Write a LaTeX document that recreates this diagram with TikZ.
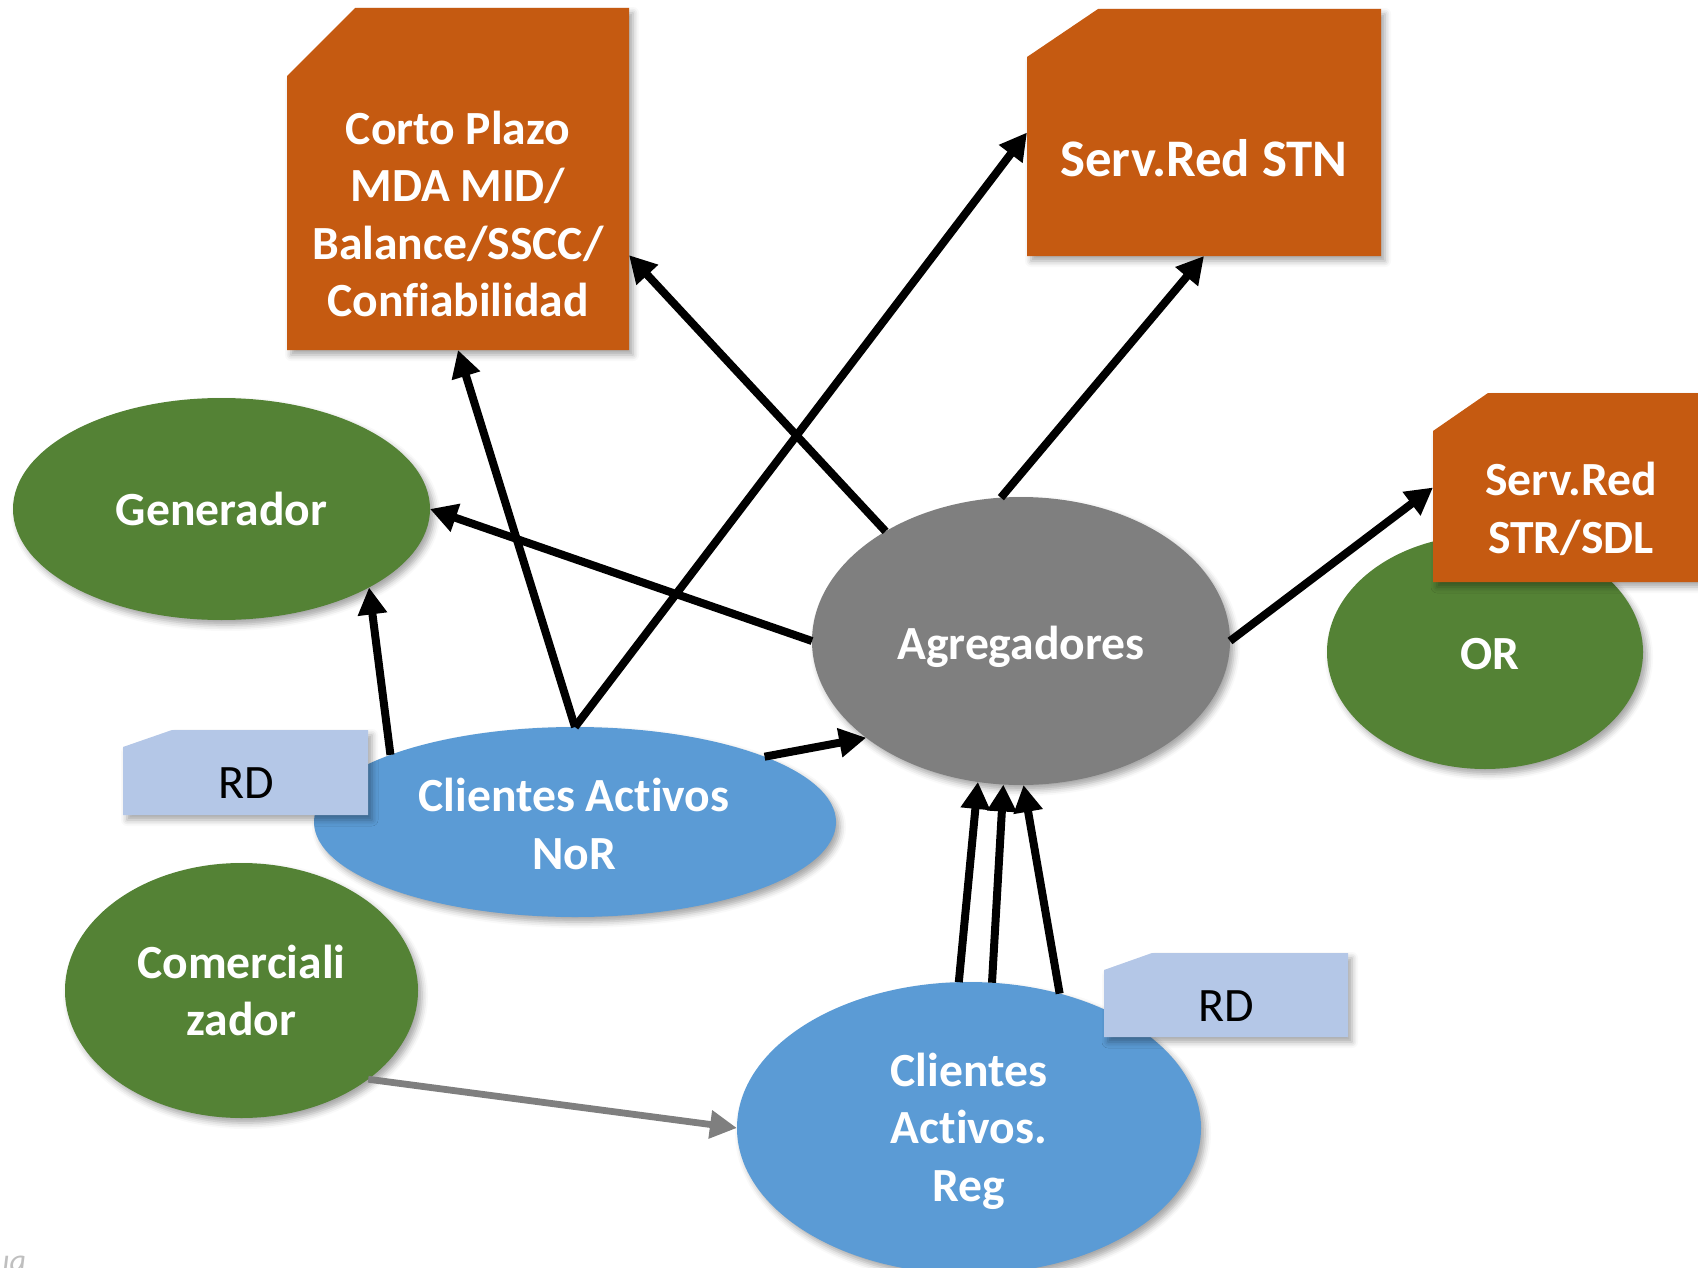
\documentclass[tikz,border=0pt]{standalone}
\usepackage{fontspec}
\setmainfont{Carlito}[Ligatures=NoCommon]
\usetikzlibrary{arrows.meta,shadows.blur,calc,shapes.geometric}
\definecolor{orng}{HTML}{C55A11}
\definecolor{grn}{HTML}{548235}
\definecolor{blu}{HTML}{5B9BD5}
\definecolor{gry}{HTML}{7F7F7F}
\definecolor{rdblue}{HTML}{B4C7E7}
\definecolor{foottxt}{HTML}{BFBFBF}
\tikzset{
  shad/.style={blur shadow={shadow xshift=2pt, shadow yshift=-2.5pt, shadow blur radius=3pt, shadow opacity=35}},
  ell/.style={ellipse, inner sep=0pt, outer sep=0pt, shad, text=white, align=center,
              font=\fontsize{23.8}{28.65}\selectfont\bfseries},
  frame/.style={rectangle, inner sep=0pt, outer sep=0pt, draw=none},
  lbl/.style={text=white, font=\fontsize{23.8}{28.65}\selectfont\bfseries, align=center, inner sep=0pt},
  rdlbl/.style={text=black, font=\fontsize{24}{28.8}\selectfont, inner sep=0pt},
  arr/.style={line width=4pt, -{Triangle[width=14pt,length=13.5pt]}, black},
  garr/.style={line width=3.4pt, -{Triangle[width=13.5pt,length=13.5pt]}, gry},
}
\begin{document}
\begin{tikzpicture}[x=0.5pt,y=-0.5pt]
\useasboundingbox (0,0) rectangle (1698,1268);
\clip (0,0) rectangle (1698,1268);

% Generador
\node[ell, fill=grn, minimum width=208.5pt, minimum height=111pt] (gen) at (221.5,509) {Generador};

% Corto Plazo box
\node[frame, minimum width=171pt, minimum height=171pt] (cp) at (458,179) {};
\fill[orng, shad] ($(cp.north west)+(0,68)$) -- ($(cp.north west)+(68,0)$) -- (cp.north east) -- (cp.south east) -- (cp.south west) -- cycle;
\node[lbl] (cptxt) at (458,214) {Corto Plazo\\MDA MID/\\Balance/SSCC/\\Confiabilidad};

% Serv.Red STN box
\node[frame, minimum width=177pt, minimum height=123.5pt] (stn) at (1204,132.5) {};
\fill[orng, shad] ($(stn.north west)+(0,48)$) -- ($(stn.north west)+(71,0)$) -- (stn.north east) -- (stn.south east) -- (stn.south west) -- cycle;
\node[lbl, font=\fontsize{26.4}{32}\selectfont\bfseries] (stntxt) at (1204,158) {Serv.Red STN};

% OR
\node[ell, fill=grn, minimum width=158pt, minimum height=117pt] (or) at (1485,652) {};
\node[lbl] (ortxt) at (1490,654) {OR};

% Serv.Red STR/SDL box
\node[frame, minimum width=137pt, minimum height=94.5pt] (sdl) at (1570,487.5) {};
\fill[orng, shad] ($(sdl.north west)+(0,38)$) -- ($(sdl.north west)+(55,0)$) -- (sdl.north east) -- (sdl.south east) -- (sdl.south west) -- cycle;
\node[lbl, font=\fontsize{23.8}{29}\selectfont\bfseries] (sdltxt) at (1571,509) {Serv.Red\\STR/SDL};

% Agregadores
\node[ell, fill=gry, minimum width=209pt, minimum height=144pt] (agg) at (1021,641) {};
\node[lbl] (aggtxt) at (1021,647) {Agregadores};

% Comercializador
\node[ell, fill=grn, minimum width=176.5pt, minimum height=127.5pt] (com) at (241.5,990.5) {Comerciali\\zador};

% Clientes Activos NoR
\node[ell, fill=blu, minimum width=261pt, minimum height=95pt] (nor) at (575,822) {};
\node[lbl] (nortxt) at (574,824) {Clientes Activos\\NoR};

% RD left
\node[frame, minimum width=122.5pt, minimum height=42.5pt] (rdl) at (245.5,772.5) {};
\fill[rdblue, shad] ($(rdl.north west)+(0,17)$) -- ($(rdl.north west)+(49,0)$) -- (rdl.north east) -- (rdl.south east) -- (rdl.south west) -- cycle;
\node[rdlbl] (rdltxt) at (246,783.5) {RD};

% Clientes Activos. Reg
\node[ell, fill=blu, minimum width=232pt, minimum height=146pt] (reg) at (969,1128) {};
\node[lbl, font=\fontsize{23.8}{28.75}\selectfont\bfseries] (regtxt) at (969,1131) {Clientes\\Activos.\\Reg};

% RD right
\node[frame, minimum width=122pt, minimum height=42pt] (rdr) at (1226,995) {};
\fill[rdblue, shad] ($(rdr.north west)+(0,17)$) -- ($(rdr.north west)+(48,0)$) -- (rdr.north east) -- (rdr.south east) -- (rdr.south west) -- cycle;
\node[rdlbl] (rdrtxt) at (1226,1006) {RD};

% footer fragment (cut off by the lower edge, as in the reference)
\node[anchor=base west, text=foottxt, font=\fontsize{16}{19}\selectfont\itshape, inner sep=0pt] (foot) at (2,1271) {ıa};

% Connectors
\draw[arr] (nor.160.3) -- (gen.-28);
\draw[arr] (agg.west) -- (gen.east);
\draw[arr] (agg.141.65) -- (cp.-24.4);
\draw[arr] (nor.north) -- (cp.south);
\draw[arr] (nor.north) -- (stn.west);
\draw[arr] (agg.98) -- (stn.south);
\draw[arr] (agg.east) -- (sdl.west);
\draw[arr] (nor.19.9) -- (agg.212.8);
\draw[arr] (reg.94.3) -- (agg.-107.1);
\draw[arr] (reg.81.8) -- (agg.-97.9);
\draw[arr] (reg.56.8) -- (agg.-89.6);
\draw[garr] (com.-35.5) -- (reg.west);
\end{tikzpicture}
\end{document}
